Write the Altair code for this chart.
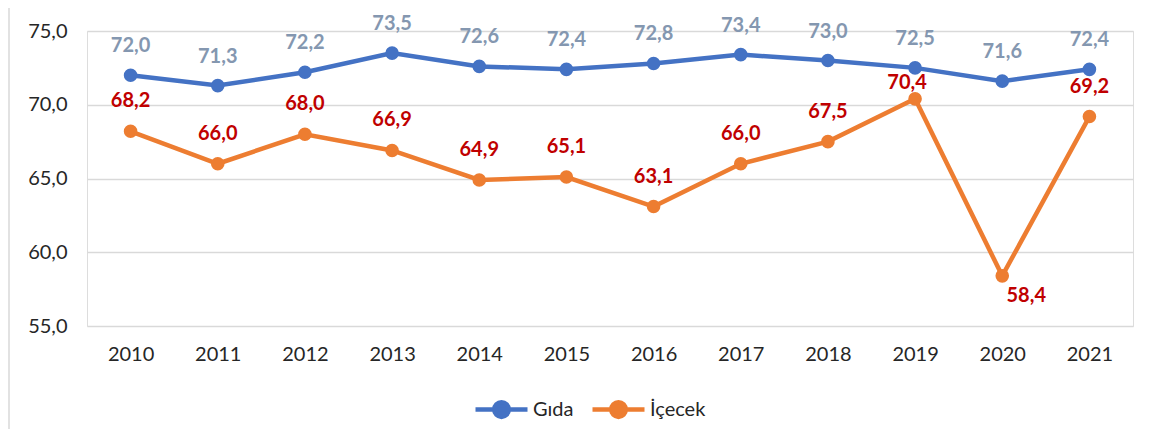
import altair as alt
import pandas as pd

years = [2010, 2011, 2012, 2013, 2014, 2015, 2016, 2017, 2018, 2019, 2020, 2021]
gida = [72.0, 71.3, 72.2, 73.5, 72.6, 72.4, 72.8, 73.4, 73.0, 72.5, 71.6, 72.4]
icecek = [68.2, 66.0, 68.0, 66.9, 64.9, 65.1, 63.1, 66.0, 67.5, 70.4, 58.4, 69.2]
series_names = ["Gıda", "İçecek"]
series_colors = ["#4472C4", "#ED7D31"]
y_ticks = [55, 60, 65, 70, 75]

rows = []
for yr, g, i in zip(years, gida, icecek):
    rows.append({"year": str(yr), "series": series_names[0], "value": g})
    rows.append({"year": str(yr), "series": series_names[1], "value": i})
df = pd.DataFrame(rows)

FONT = "Lato"
label_expr = "replace(format(datum.value, '.1f'), '.', ',')"

x_enc = alt.X("year:O", scale=alt.Scale(type="point", padding=0.5),
              axis=alt.Axis(title=None, labelAngle=0, ticks=False, domain=False,
                            labelPadding=18, labelFontSize=20, labelColor="#262626",
                            labelFont=FONT, grid=False))
y_enc = alt.Y("value:Q", scale=alt.Scale(domain=[55, 75], nice=False, zero=False),
              axis=alt.Axis(title=None, values=y_ticks, ticks=False, domain=False,
                            labelPadding=20, labelFontSize=20, labelColor="#262626",
                            labelFont=FONT, gridColor="#D9D9D9", gridWidth=1.3,
                            labelExpr=label_expr))

cscale = alt.Scale(domain=series_names, range=series_colors)

legend_path = "M-1,0L1,0M0.28,0A0.28,0.28,0,1,1,-0.28,0A0.28,0.28,0,1,1,0.28,0Z"
leg = alt.Legend(title=None, orient="none", direction="horizontal",
                 legendX=386, legendY=350, symbolType=legend_path, symbolSize=2704,
                 symbolStrokeWidth=4.5, labelFontSize=20, labelFont=FONT,
                 labelColor="#262626", labelOffset=3, columnPadding=9)

base = alt.Chart(df)

lines = base.mark_line(strokeWidth=4.5).encode(
    x=x_enc, y=y_enc,
    color=alt.Color("series:N", scale=cscale, legend=leg),
)

points = base.mark_point(filled=True, size=185, opacity=1).encode(
    x="year:O", y="value:Q",
    color=alt.Color("series:N", scale=cscale, legend=leg),
)

txt = base.transform_calculate(lbl=label_expr)
LBL = dict(fontSize=20, fontWeight="bold", font=FONT)

t_gida = txt.transform_filter(alt.datum.series == series_names[0]).mark_text(
    dy=-29, color="#8497B0", **LBL
).encode(x="year:O", y="value:Q", text="lbl:N")

t_ice = txt.transform_filter(
    (alt.datum.series == series_names[1]) & (alt.datum.year != "2019") & (alt.datum.year != "2020")
).mark_text(dy=-30, color="#C00000", **LBL).encode(
    x="year:O", y="value:Q", text="lbl:N")

t_ice19 = txt.transform_filter(
    (alt.datum.series == series_names[1]) & (alt.datum.year == "2019")
).mark_text(dy=-16, dx=-8, color="#C00000", **LBL).encode(
    x="year:O", y="value:Q", text="lbl:N")

t_ice20 = txt.transform_filter(
    (alt.datum.series == series_names[1]) & (alt.datum.year == "2020")
).mark_text(dy=20, dx=24, color="#C00000", **LBL).encode(
    x="year:O", y="value:Q", text="lbl:N")

frame = alt.Chart(pd.DataFrame({"k": [0]})).mark_rule(color="#D9D9D9", strokeWidth=1.5).encode(
    x=alt.value(-78), y=alt.value(-23), y2=alt.value(410))

chart = alt.layer(frame, lines, points, t_gida, t_ice, t_ice19, t_ice20).properties(
    width=1046, height=295,
    autosize=alt.AutoSizeParams(type="none"),
    padding={"left": 79, "top": 23, "right": 17, "bottom": 103},
).configure_view(stroke=None).configure(font=FONT, background="white")

chart.save("out.html", embed_options={"renderer": "svg", "actions": False})
